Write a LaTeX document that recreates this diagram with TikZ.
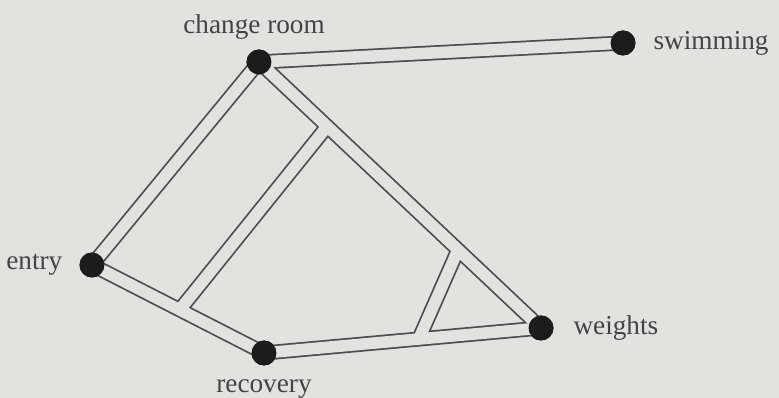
\documentclass[tikz,border=0pt]{standalone}
\usepackage{fontspec}
\setmainfont{Liberation Serif}
\usetikzlibrary{calc}
\definecolor{paper}{RGB}{226, 226, 224}
\definecolor{roadedge}{RGB}{78, 78, 78}
\definecolor{spotcol}{RGB}{28, 28, 28}
\definecolor{labelcol}{RGB}{68, 68, 68}
\tikzset{
  % places on the plan (black dots)
  spot/.style={
    circle, fill=spotcol, minimum size=0.5cm, inner sep=0pt
  },
  % place names
  place label/.style={
    font=\fontsize{15.5}{18}\selectfont, text=labelcol, inner sep=0pt
  },
  %
  % Roads are drawn in two passes: a wide dark stroke, then a
  % slightly narrower paper-coloured stroke on top, so junctions merge
  road outer/.style={color=roadedge, line width=8.6pt},
  road inner/.style={color=paper, line width=6.6pt},
}

\begin{document}
\begin{tikzpicture}[x=0.02cm, y=-0.02cm]

  %% ── Paper ─────────────────────────────────────────────────────────────────
  \path[use as bounding box, fill=paper] (0, 0) rectangle (779, 398);

  %% ── Places ────────────────────────────────────────────────────────────────
  \node[spot, label={[place label, label distance=5.4pt, xshift=-2.8pt]above:change room}] (cr) at (259,  62) {};
  \node[spot, label={[place label, label distance=9.9pt]right:swimming}]                   (sw) at (623,  43) {};
  \node[spot, label={[place label, label distance=9.4pt]left:entry}]                       (en) at ( 92, 265) {};
  \node[spot, label={[place label, label distance=7.6pt]below:recovery}]                   (re) at (264, 353) {};
  \node[spot, label={[place label, label distance=11pt]right:weights}]                     (we) at (541, 328) {};

  %% ── Junctions on the roads ────────────────────────────────────────────────
  \coordinate (jA1) at ($(cr.center)!0.242!(we.center)$);
  \coordinate (jA2) at ($(en.center)!0.510!(re.center)$);
  \coordinate (jB1) at ($(cr.center)!0.706!(we.center)$);
  \coordinate (jB2) at ($(re.center)!0.559!(we.center)$);

  %% ── Roads, outer pass ─────────────────────────────────────────────────────
  \draw[road outer] (cr.center) -- (sw.center);
  \draw[road outer] (cr.center) -- (en.center);
  \draw[road outer] (cr.center) -- (we.center);
  \draw[road outer] (en.center) -- (re.center);
  \draw[road outer] (re.center) -- (we.center);
  \draw[road outer] (jA1) -- (jA2);
  \draw[road outer] (jB1) -- (jB2);

  %% ── Roads, inner pass ─────────────────────────────────────────────────────
  \draw[road inner] (cr.center) -- (sw.center);
  \draw[road inner] (cr.center) -- (en.center);
  \draw[road inner] (cr.center) -- (we.center);
  \draw[road inner] (en.center) -- (re.center);
  \draw[road inner] (re.center) -- (we.center);
  \draw[road inner] (jA1) -- (jA2);
  \draw[road inner] (jB1) -- (jB2);

  %% ── Dots on top of the road ends ─────────────────────────────────────────
  \node[spot] at (cr) {};
  \node[spot] at (sw) {};
  \node[spot] at (en) {};
  \node[spot] at (re) {};
  \node[spot] at (we) {};

\end{tikzpicture}
\end{document}
